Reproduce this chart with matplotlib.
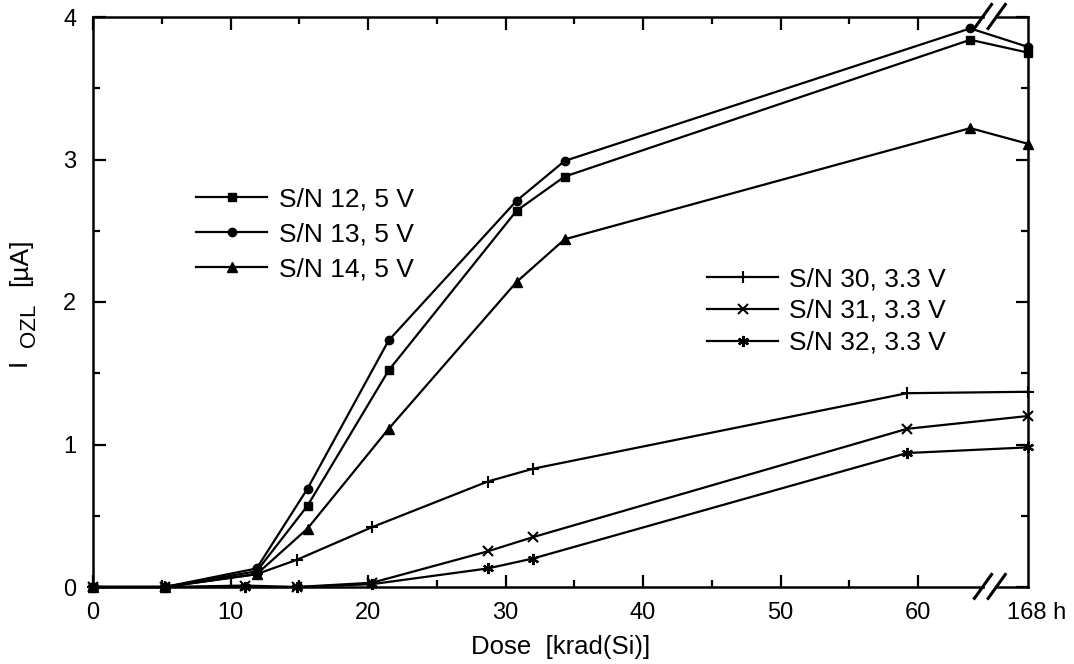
import numpy as np
import matplotlib
matplotlib.use("Agg")
import matplotlib.pyplot as plt
import matplotlib.transforms as mtransforms

plt.rcParams['font.family'] = ['Liberation Sans', 'DejaVu Sans']

# dose values (krad(Si)); the last point (68) is the 168 h anneal
dose_5v = [0, 5.2, 11.9, 15.6, 21.5, 30.8, 34.3, 63.8, 68]
sn12 = [0, 0, 0.11, 0.57, 1.52, 2.64, 2.88, 3.84, 3.75]
sn13 = [0, 0, 0.13, 0.69, 1.73, 2.71, 2.99, 3.92, 3.79]
sn14 = [0, 0, 0.09, 0.41, 1.11, 2.14, 2.44, 3.22, 3.11]

dose_30 = [0, 5.2, 11.9, 14.8, 20.3, 28.7, 32.0, 59.2, 68]
sn30 = [0, 0, 0.09, 0.19, 0.42, 0.74, 0.83, 1.36, 1.37]
dose_33 = [0, 5.2, 11.05, 14.8, 20.3, 28.7, 32.0, 59.2, 68]
sn31 = [0, 0, 0.01, 0.0, 0.03, 0.25, 0.35, 1.11, 1.20]
sn32 = [0, 0, 0.0, 0.0, 0.02, 0.13, 0.20, 0.94, 0.98]

labels_5v = ["S/N 12, 5 V", "S/N 13, 5 V", "S/N 14, 5 V"]
labels_33 = ["S/N 30, 3.3 V", "S/N 31, 3.3 V", "S/N 32, 3.3 V"]

fig = plt.figure(figsize=(10.74, 6.64), dpi=100)
ax = fig.add_axes([93/1074, 1-587/664, (1028-93)/1074, (587-17)/664])

lw = 1.6
h12, = ax.plot(dose_5v, sn12, 'k-', marker='s', ms=6, lw=lw, clip_on=False, zorder=3)
h13, = ax.plot(dose_5v, sn13, 'k-', marker='o', ms=6, lw=lw, clip_on=False, zorder=3)
h14, = ax.plot(dose_5v, sn14, 'k-', marker='^', ms=6.5, lw=lw, clip_on=False, zorder=3)
h30, = ax.plot(dose_30, sn30, 'k-', marker='+', ms=9, mew=1.5, lw=lw, clip_on=False, zorder=3)
h31, = ax.plot(dose_33, sn31, 'k-', marker='x', ms=7, mew=1.5, lw=lw, clip_on=False, zorder=3)
h32, = ax.plot(dose_33, sn32, 'k-', marker=(6, 2, 0), ms=8, mew=1.6, lw=lw, clip_on=False, zorder=3)

ax.set_xlim(0, 68)
ax.set_ylim(0, 4)
ax.set_xticks([0, 10, 20, 30, 40, 50, 60])
ax.set_xticks([5, 15, 25, 35, 45, 55], minor=True)
ax.set_yticks([0, 1, 2, 3, 4])
ax.set_yticks(np.arange(0.5, 4, 1.0), minor=True)
ax.tick_params(which='both', direction='in', top=True, right=True, labelsize=17, width=1.6, colors='k')
ax.tick_params(which='major', length=9)
ax.tick_params(axis='x', which='major', pad=11)
ax.tick_params(axis='y', which='major', pad=12)
ax.tick_params(which='minor', length=5)
for s in ax.spines.values():
    s.set_linewidth(1.8)

ax.text(68.6, -0.18, "168 h", ha='center', va='center', fontsize=17)

ax.set_xlabel("Dose  [krad(Si)]", fontsize=18.5, labelpad=8)

# y label built from pieces so the subscript stays large
fig.text(19/1074, 1-362/664, "I", rotation=90, ha='center', va='center', fontsize=19)
fig.text(29/1074, 1-325/664, "OZL", rotation=90, ha='center', va='center', fontsize=16)
fig.text(20/1074, 1-262/664, "[µA]", rotation=90, ha='center', va='center', fontsize=19)

# axis break marks at top and bottom
trans = mtransforms.blended_transform_factory(ax.transData, ax.transAxes)
for yb in (0, 1):
    ax.add_patch(plt.Rectangle((64.9, yb - 0.01), 0.8, 0.02, transform=trans,
                               color='white', clip_on=False, zorder=4))
    for x0 in (64.1, 65.1):
        ax.plot([x0, x0 + 1.25], [yb - 0.02, yb + 0.022], 'k-', lw=2.2,
                transform=trans, clip_on=False, zorder=5)

leg1 = ax.legend([h12, h13, h14], labels_5v, loc='upper left', frameon=False,
                 fontsize=19, handlelength=2.7, handletextpad=0.45, labelspacing=0.42,
                 borderpad=0, borderaxespad=0,
                 bbox_to_anchor=(196/1074, 1-187/664), bbox_transform=fig.transFigure)
ax.add_artist(leg1)
ax.legend([h30, h31, h32], labels_33, loc='upper left', frameon=False,
          fontsize=19, handlelength=2.7, handletextpad=0.4, labelspacing=0.3,
          borderpad=0, borderaxespad=0,
          bbox_to_anchor=(707/1074, 1-267/664), bbox_transform=fig.transFigure)

plt.savefig("out.png", dpi=100)
